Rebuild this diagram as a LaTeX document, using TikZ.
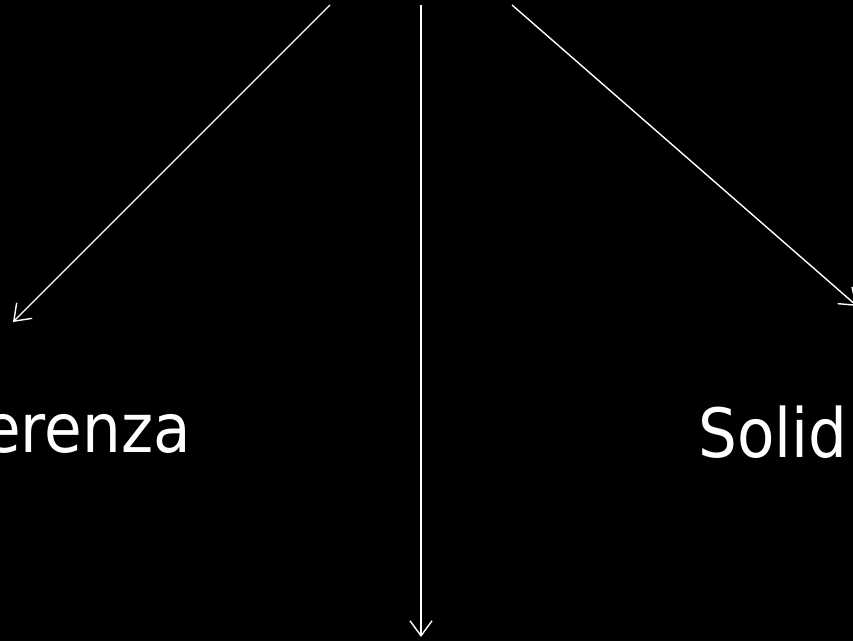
\documentclass[tikz,border=0pt]{standalone}
\usepackage{fontspec}
\setmainfont{DejaVu Sans}[FakeStretch=0.9]
\usepackage{tikz}
\usetikzlibrary{positioning, arrows.meta}
\definecolor{SlideBlack}{RGB}{0, 0, 0}
\definecolor{SlideWhite}{RGB}{255, 255, 255}

\tikzset{
  branch/.style={SlideWhite, line width=1.4pt, -{Straight Barb[length=15pt, width=22pt, line width=1.4pt]}},
  label/.style={SlideWhite, inner sep=0pt, font=\fontsize{68}{82}\selectfont}
}

\begin{document}
\begin{tikzpicture}[x=1pt, y=1pt]
    % background
    \fill[SlideBlack] (0,0) rectangle (853,641);
    \useasboundingbox (0,0) rectangle (853,641);
    \clip (0,0) rectangle (853,641);

    % labels
    \node[label, anchor=base east] (left) at (191,189) {erenza};
    \node[label, anchor=base west] (right) at (698,184) {Solid};

    % start and end points of the arrows
    \coordinate (srcL) at (330,636);
    \coordinate (srcM) at (421,636);
    \coordinate (srcR) at (512,636);
    \coordinate (tipL) at (13,319);
    \coordinate (tipM) at (421,4);
    \coordinate (tipR) at (857,335);

    % arrows
    \draw[branch] (srcL) -- (tipL);
    \draw[branch] (srcM) -- (tipM);
    \draw[branch] (srcR) -- (tipR);
\end{tikzpicture}
\end{document}
